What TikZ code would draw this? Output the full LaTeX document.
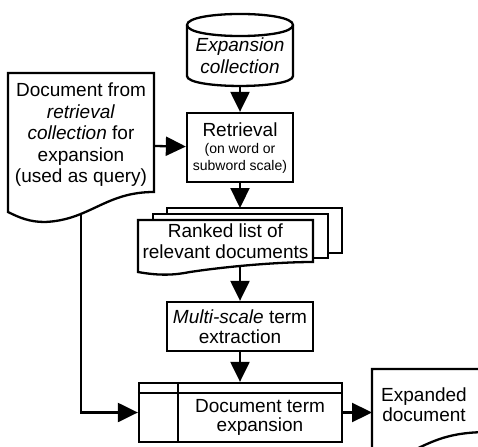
\documentclass[tikz,border=0pt]{standalone}
\usepackage{fontspec}
\setmainfont{Liberation Sans}
\usetikzlibrary{arrows.meta}
\begin{document}
\begin{tikzpicture}[x=1pt, y=-1pt, line width=2.3pt, line join=miter,
  flow/.style={-{Triangle[length=20pt,width=19pt]}},
  lbl/.style={align=center, font=\fontsize{19}{21.5}\selectfont, inner sep=0pt},
  lblt/.style={align=center, font=\fontsize{19}{19.5}\selectfont, inner sep=0pt},
  sub/.style={align=center, font=\fontsize{14}{16.5}\selectfont, inner sep=0pt},
  box/.style={draw, fill=white, inner sep=0pt}]
\useasboundingbox (0,0) rectangle (478,446);
\clip (0,0) rectangle (478,446);

% storage cylinder
\draw[fill=white] (187,25) -- (187,76) .. controls (187,89.3) and (293,89.3) .. (293,76)
  -- (293,25) .. controls (293,10.3) and (187,10.3) .. (187,25) -- cycle;
\draw (187,25) .. controls (187,39.7) and (293,39.7) .. (293,25);
\node[lbl, font=\fontsize{19}{22}\selectfont\itshape] (coll) at (240,56) {Expansion\\collection};
\coordinate (collB) at (240,86);

% source document
\draw[fill=white] (8,73) -- (154,73) -- (154,192)
  .. controls (105,192) and (90,220) .. (45,222)
  .. controls (30,222) and (20,218) .. (8,212) -- cycle;
\node[lbl] (doc) at (81,135) {Document from\\\textit{retrieval}\\\textit{collection} for\\expansion\\(used as query)};
\coordinate (docR) at (154,146);
\coordinate (docB) at (81,214);

% retrieval step
\node[box, minimum width=106pt, minimum height=69pt] (ret) at (240,147.5) {};
\node[lbl, anchor=base] (rett) at (240,137) {Retrieval};
\node[sub] (rets) at (240,158.5) {(on word or\\subword scale)};

% stack of ranked documents
\draw[fill=white] (167,208) rectangle (342,253);
\draw[fill=white] (153,214) rectangle (328,258);
\draw[fill=white] (138,220) -- (313,220) -- (313,262)
  .. controls (280,262) and (230,266) .. (190,272)
  .. controls (175,275) and (160,276) .. (138,272) -- cycle;
\node[lbl] (rank) at (225.5,241) {Ranked list of\\relevant documents};
\coordinate (rankT) at (240,208);
\coordinate (rankB) at (240,267);

% term extraction
\node[box, lblt, minimum width=146pt, minimum height=49pt] (multi) at (240,326.5)
  {\textit{Multi-scale} term\\extraction};

% expansion step
\node[box, minimum width=203pt, minimum height=59pt] (tab) at (240.5,412.5) {};
\draw ([yshift=-11pt]tab.north west) -- ([yshift=-11pt]tab.north east);
\draw ([xshift=40pt]tab.north west) -- ([xshift=40pt]tab.south west);
\node[lblt] (tabt) at (260,417.5) {Document term\\expansion};

% output document
\draw[fill=white] (372,369) -- (490,369) -- (490,432)
  .. controls (450,432) and (435,440) .. (410,452)
  .. controls (395,458) and (385,458) .. (372,455) -- cycle;
\node[lblt, font=\fontsize{19}{20}\selectfont] (expt) at (424,405) {Expanded\\document};
\coordinate (expL) at (372,412.5);

% connectors
\draw[flow] (collB) -- (ret);
\draw[flow] (docR) -- (ret);
\draw[flow] (ret) -- (rankT);
\draw[flow] (rankB) -- (multi);
\draw[flow] (multi.south) -- (multi.south |- tab.north);
\draw[flow] (docB) |- (tab.west);
\draw[flow] (tab.east) -- (tab.east -| expL);
\end{tikzpicture}
\end{document}
